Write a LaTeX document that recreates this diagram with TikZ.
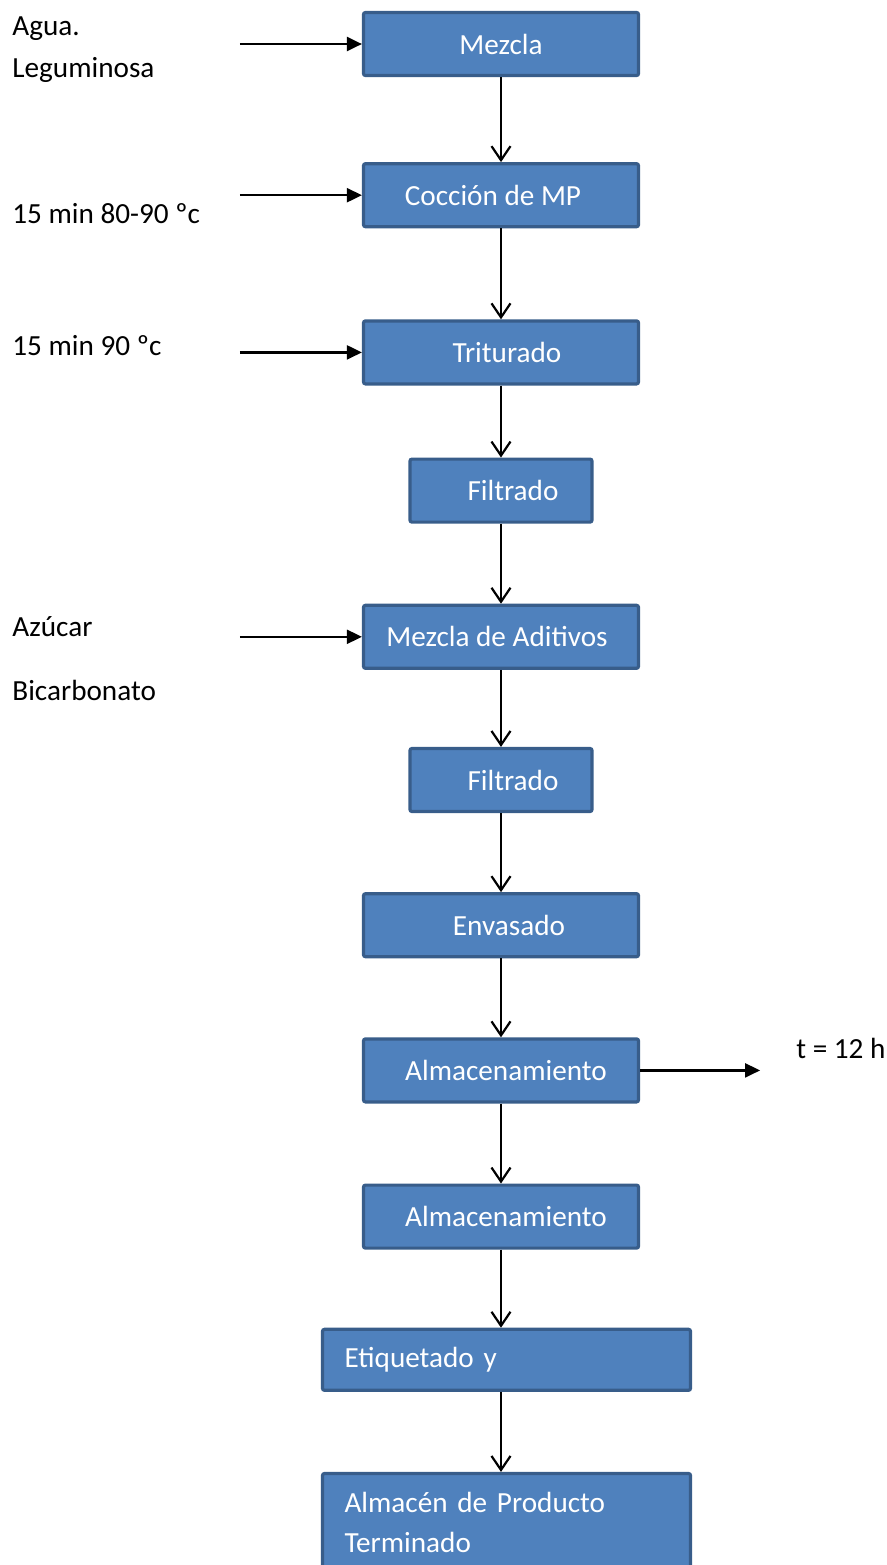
\documentclass[tikz,border=0pt]{standalone}
\usepackage{fontspec}
\setmainfont{Carlito}
\usepackage{tikz}
\usetikzlibrary{arrows.meta,positioning}
\definecolor{BoxFill}{HTML}{4F81BD}
\definecolor{BoxLine}{HTML}{385D8A}

\begin{document}
\begin{tikzpicture}[
  font=\fontsize{14.6pt}{20pt}\selectfont,
  node distance=40pt,
  proc/.style={draw=BoxLine,line width=1.6pt,rounded corners=1pt,fill=BoxFill,text=white,minimum width=137.5pt,minimum height=31.5pt,inner sep=0pt},
  procS/.style={proc,minimum width=91pt},
  procW/.style={proc,minimum width=184pt,minimum height=30.5pt,text width=162pt,inner xsep=11pt,align=left},
  lbl/.style={anchor=base west,inner sep=0pt},
  down/.style={-{Straight Barb[length=7pt,width=9.5pt]},line width=1.1pt},
  feed/.style={-{Triangle[length=7.5pt,width=7pt]},line width=1.1pt}
]
\useasboundingbox (0,0) rectangle (443.5pt,-782.5pt);
\node[proc] (mez) at (250.5pt,-22pt) {Mezcla};
\node[proc,below=42.5pt of mez] (coc) {Cocción de MP\hspace*{8pt}};
\node[proc,below=45.5pt of coc] (tri) {\hspace*{6pt}Triturado};
\node[procS,below=36pt of tri] (fil1) {\hspace*{12pt}Filtrado};
\node[proc,below=of fil1] (adi) {Mezcla de Aditivos\hspace*{4pt}};
\node[procS,below=38.5pt of adi] (fil2) {\hspace*{12pt}Filtrado};
\node[proc,below=39.5pt of fil2] (env) {\hspace*{8pt}Envasado};
\node[proc,below=39.5pt of env] (alm1) {\hspace*{5pt}Almacenamiento};
\node[proc,below=of alm1] (alm2) {\hspace*{5pt}Almacenamiento};
\node[procW,below=39pt of alm2,xshift=2.75pt] (eti) {Etiquetado y};
\node[procW,below=of eti,minimum height=48.7pt] (apt) {Almacén de Producto\\Terminado};

\node[lbl] (agua) at (6pt,-17.5pt) {Agua.};
\node[lbl] (legum) at (6pt,-38.5pt) {Leguminosa};
\node[lbl] (tcoc) at (6pt,-111.5pt) {15 min 80-90 ºc};
\node[lbl] (ttri) at (6pt,-177.5pt) {15 min 90 ºc};
\node[lbl] (azuc) at (6pt,-318pt) {Azúcar};
\node[lbl] (bicarb) at (6pt,-350pt) {Bicarbonato};
\node[lbl] (talm) at (398pt,-529pt) {t = 12 h};

\coordinate[left=61pt of mez.west] (inMez);
\coordinate[left=61pt of coc.west] (inCoc);
\coordinate[left=61pt of tri.west] (inTri);
\coordinate[left=61pt of adi.west] (inAdi);
\coordinate[right=60pt of alm1.east] (outAlm);

\draw[feed] (inMez) -- (mez);
\draw[feed] (inCoc) -- (coc);
\draw[feed] (inTri) -- (tri);
\draw[feed] (inAdi) -- (adi);
\draw[feed] (alm1) -- (outAlm);

\foreach \a/\b in {mez/coc,coc/tri,tri/fil1,fil1/adi,adi/fil2,fil2/env,env/alm1,alm1/alm2}
  \draw[down] (\a) -- (\b);
\draw[down] (alm2.south) -- (alm2.south |- eti.north);
\draw[down] (eti.south -| alm2) -- (apt.north -| alm2);
\end{tikzpicture}
\end{document}
